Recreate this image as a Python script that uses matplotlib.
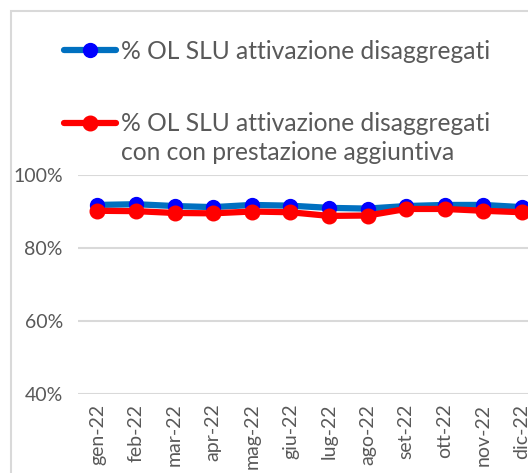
""" Monthly share of OL SLU activations (disaggregated), 2022. """

import matplotlib.pyplot as plt
from matplotlib.patches import Rectangle
from matplotlib.ticker import FuncFormatter

###########
#  Data   #
###########
months = ['gen-22', 'feb-22', 'mar-22', 'apr-22', 'mag-22', 'giu-22',
          'lug-22', 'ago-22', 'set-22', 'ott-22', 'nov-22', 'dic-22']
disaggregati = [91.8, 92.0, 91.5, 91.2, 91.8, 91.6,
                91.0, 90.8, 91.5, 91.8, 91.8, 91.2]
con_prestazione = [90.2, 90.1, 89.6, 89.5, 90.0, 89.8,
                   88.8, 88.9, 90.7, 90.7, 90.2, 89.8]
yticks = [40, 60, 80, 100]

label_1 = "% OL SLU attivazione disaggregati"
label_2 = "% OL SLU attivazione disaggregati"
label_2_cont = "con con prestazione aggiuntiva"

###########
#  Style  #
###########
plt.rcParams['font.family'] = ['Lato', 'DejaVu Sans']
text_grey = '#595959'
grid_grey = '#d9d9d9'
legend_size = 17.7

fig = plt.figure(figsize=(5.28, 4.73), dpi=100)
# chart is clipped on the right, so the axes run past the figure edge
ax = fig.add_axes([0.148, 0.167, 0.877, 0.463])

x = list(range(len(months)))
line1, = ax.plot(x, disaggregati, color='#0070C0', lw=4.5,
                 marker='o', ms=10, mfc='#0000FF', mec='#0000FF',
                 solid_capstyle='round')
line2, = ax.plot(x, con_prestazione, color='#FF0000', lw=4.5,
                 marker='o', ms=10.5, mfc='#FF0000', mec='#FF0000',
                 solid_capstyle='round')

ax.set(xlim=(-0.5, len(months) - 0.5), ylim=(40, 100),
       xticks=x, yticks=yticks)
ax.set_xticklabels(months, rotation=90)
ax.yaxis.set_major_formatter(FuncFormatter(lambda v, _: f"{v:.0f}%"))
ax.tick_params(axis='both', length=0, labelsize=14, labelcolor=text_grey)
ax.tick_params(axis='y', pad=11)
ax.tick_params(axis='x', pad=7)
ax.grid(axis='y', color=grid_grey, lw=1.5)
ax.set_axisbelow(True)
for s in ax.spines.values():
    s.set_visible(False)

# Legend (handle sits on the first line of the 2nd label, so the
# continuation line is placed under it by hand)
leg = fig.legend([line1, line2], [label_1, label_2], loc='upper left',
                 bbox_to_anchor=(0.097, 0.942), frameon=False,
                 fontsize=legend_size, labelcolor=text_grey,
                 handlelength=2.15, handletextpad=0.17, labelspacing=2.02,
                 borderpad=0)
fig.canvas.draw()
bb = leg.get_texts()[1].get_window_extent()
x0, y0 = fig.transFigure.inverted().transform((bb.x0, bb.y0))
fig.text(x0, y0 - 29 / 473, label_2_cont, fontsize=legend_size,
         color=text_grey, ha='left', va='bottom')

# Chart border (clipped on right/bottom)
fig.patches.append(Rectangle((11 / 528, -0.1), 1.2, 1 - 11 / 473 + 0.1,
                             transform=fig.transFigure, fill=False,
                             edgecolor=grid_grey, lw=1.5))

fig.savefig('out.png', dpi=100)
